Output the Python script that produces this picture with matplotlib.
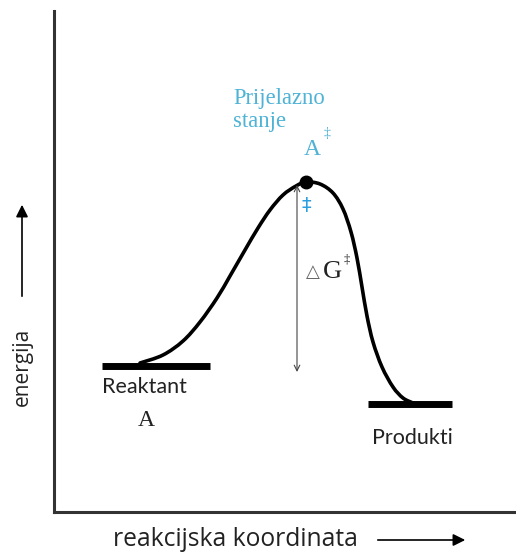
import matplotlib.pyplot as plt
from matplotlib.path import Path
from matplotlib.patches import PathPatch, FancyArrowPatch

# ---------------------------
# Data
# ---------------------------

# reaction coordinate / energy of the profile curve
curve_x = [86, 109, 129, 146, 163, 176, 191, 204, 216, 229, 242, 252,
           266, 279, 289, 297, 303, 308, 313, 319, 328, 339, 349, 359]
curve_e = [149, 157, 171, 190, 214, 236, 262, 284, 302, 317, 326, 330,
           328, 319, 303, 280, 254, 225, 196, 170, 145, 125, 114, 109]

# energy levels (flat bars)
reactant_x = [48, 156]
reactant_e = 146
product_x = [314, 398]
product_e = 108

# transition state
ts_x = 252
ts_e = 330

# delta G arrow
dg_x = 243
dg_top = 327
dg_bottom = 140

BLUE = "#4fb3d6"


# smooth path through the read points (Catmull-Rom -> cubic Bezier)
def smooth_path(xs, ys):
    pts = list(zip(xs, ys))
    verts = [pts[0]]
    codes = [Path.MOVETO]
    for i in range(len(pts) - 1):
        p0 = pts[max(i - 1, 0)]
        p1 = pts[i]
        p2 = pts[i + 1]
        p3 = pts[min(i + 2, len(pts) - 1)]
        c1 = (p1[0] + (p2[0] - p0[0]) / 6, p1[1] + (p2[1] - p0[1]) / 6)
        c2 = (p2[0] - (p3[0] - p1[0]) / 6, p2[1] - (p3[1] - p1[1]) / 6)
        verts += [c1, c2, p2]
        codes += [Path.CURVE4] * 3
    return Path(verts, codes)


fig = plt.figure(figsize=(5.16, 5.52), dpi=100)
ax = fig.add_axes([54 / 516, 40 / 552, 461 / 516, 501 / 552])
ax.set_xlim(0, 461)
ax.set_ylim(0, 501)
ax.set_xticks([])
ax.set_yticks([])
for s in ["top", "right"]:
    ax.spines[s].set_visible(False)
for s in ["left", "bottom"]:
    ax.spines[s].set_linewidth(2.2)
    ax.spines[s].set_color("#333333")

# profile
ax.add_patch(PathPatch(smooth_path(curve_x, curve_e), facecolor="none",
                       edgecolor="black", lw=2.6, capstyle="round", zorder=3))
ax.plot(reactant_x, [reactant_e] * 2, color="black", lw=5, solid_capstyle="butt")
ax.plot(product_x, [product_e] * 2, color="black", lw=5, solid_capstyle="butt")
ax.plot(ts_x, ts_e, "o", color="black", ms=9, zorder=4)

# delta G double arrow
ax.annotate("", xy=(dg_x, dg_bottom), xytext=(dg_x, dg_top),
            arrowprops=dict(arrowstyle="<->", color="#444444", lw=0.8,
                            mutation_scale=10, shrinkA=0, shrinkB=0))

serif = "Liberation Serif"
sans = "Lato"

ax.text(179, 402, "Prijelazno\nstanje", color=BLUE, fontsize=16.3,
        family=serif, va="center", ha="left", linespacing=1.1)
ax.text(258, 363, "A", color=BLUE, fontsize=17, family=serif, ha="center", va="center")
ax.text(273, 379, "‡", color=BLUE, fontsize=10, family=serif, ha="center", va="center")
ax.text(252, 307, "‡", color="#2c9fe0", fontsize=14, family="DejaVu Sans",
        ha="center", va="center")
ax.text(252, 240, "△", color="#666666", fontsize=13, family="DejaVu Sans",
        ha="left", va="center")
ax.text(269, 240, "G", color="#222222", fontsize=19, family=serif, ha="left", va="center")
ax.text(293, 252, "‡", color="#222222", fontsize=9, family=serif, ha="center", va="center")

ax.text(48, 125, "Reaktant", color="#222222", fontsize=15.5, family=sans,
        ha="left", va="center")
ax.text(92, 91, "A", color="#222222", fontsize=17, family=serif, ha="center", va="center")
ax.text(318, 74, "Produkti", color="#222222", fontsize=15.5, family=sans,
        ha="left", va="center")

# axis labels with arrows (outside the axes)
fig.text(113 / 516, 1 - 540 / 552, "reakcijska koordinata", fontsize=17.7,
         family="Open Sans", ha="left", va="center", color="#222222")
fig.text(22 / 516, 1 - 367 / 552, "energija", fontsize=15, family="Open Sans",
         rotation=90, ha="center", va="center", color="#222222")
fig.patches.append(FancyArrowPatch(
    (375 / 516, 1 - 540 / 552), (468 / 516, 1 - 540 / 552),
    transform=fig.transFigure, arrowstyle="-|>", mutation_scale=18,
    color="black", lw=1.2))
fig.patches.append(FancyArrowPatch(
    (22 / 516, 1 - 299 / 552), (22 / 516, 1 - 202 / 552),
    transform=fig.transFigure, arrowstyle="-|>", mutation_scale=18,
    color="black", lw=1.2))

plt.savefig("out.png", dpi=100)
